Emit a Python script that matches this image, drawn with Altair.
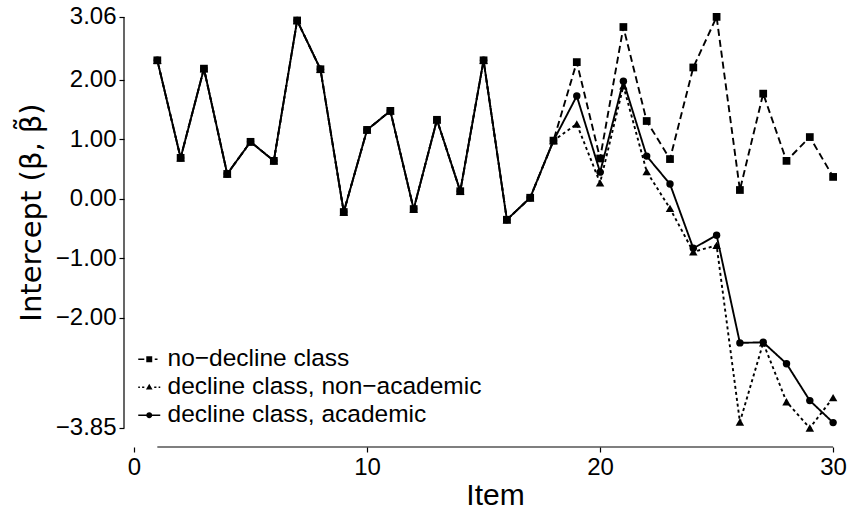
import altair as alt
import pandas as pd

# ---------------- data ----------------
items = list(range(1, 31))
common_head = [2.33, 0.69, 2.19, 0.42, 0.96, 0.64, 3.00, 2.18, -0.22, 1.16,
               1.48, -0.17, 1.33, 0.13, 2.33, -0.35, 0.02, 0.98]
no_decline_tail = [2.30, 0.68, 2.89, 1.31, 0.67, 2.21, 3.06, 0.15, 1.77, 0.64, 1.04, 0.37]
non_academic_tail = [1.26, 0.27, 1.90, 0.46, -0.16, -0.89, -0.78, -3.75, -2.42, -3.41, -3.85, -3.34]
academic_tail = [1.73, 0.45, 1.98, 0.72, 0.25, -0.83, -0.61, -2.42, -2.41, -2.77, -3.39, -3.76]

series_names = ["no\u2212decline class",
                "decline class, non\u2212academic",
                "decline class, academic"]
series_values = [common_head + no_decline_tail,
                 common_head + non_academic_tail,
                 common_head + academic_tail]
y_ticks = [-3.85, -2.0, -1.0, 0.0, 1.0, 2.0, 3.06]
x_ticks = [0, 10, 20, 30]

# ---------------- styling ----------------
W, H = 721, 442
FONT = "Liberation Sans"
dashes = [[7, 4], [3, 3], [1, 0]]
shapes = ["square", "triangle-up", "circle"]
sizes = [60, 72, 55]
legend_paths = [
    "M-1,-0.07H-0.45V0.07H-1Z M-0.27,-0.27H0.27V0.27H-0.27Z M0.5,-0.07H0.75V0.07H0.5Z",
    "M-1,-0.07H-0.85V0.07H-1Z M-0.65,-0.07H-0.45V0.07H-0.65Z M0,-0.32L0.3,0.2L-0.3,0.2Z "
    "M0.45,-0.07H0.65V0.07H0.45Z M0.85,-0.07H1V0.07H0.85Z",
    "M-1,-0.07H-0.25V0.07H-1Z M-0.27,0A0.27,0.27 0 1,1 0.27,0A0.27,0.27 0 1,1 -0.27,0Z "
    "M0.25,-0.07H1V0.07H0.25Z",
]

xscale = alt.Scale(domain=[-0.43, 30.51], nice=False, zero=False)
yscale = alt.Scale(domain=[-4.17, 3.26], nice=False, zero=False)

xaxis = alt.Axis(values=x_ticks, format="d", title="Item", titlePadding=1,
                 titleX=371, labelPadding=3, titleFontSize=30)
yaxis = alt.Axis(values=y_ticks, format=".2f", title="Intercept (\u03b2, \u03b2\u0303)",
                 titlePadding=9, titleY=207, labelPadding=3,
                 titleFont="DejaVu Sans", titleFontSize=29)

rows = []
for name, vals in zip(series_names, series_values):
    for it, v in zip(items, vals):
        rows.append({"item": it, "value": v, "series": name})
df = pd.DataFrame(rows)

layers = []
for i, name in enumerate(series_names):
    base = alt.Chart(df[df["series"] == name])
    layers.append(
        base.mark_line(color="black", strokeWidth=1.9, strokeDash=dashes[i]).encode(
            x=alt.X("item:Q", scale=xscale, axis=xaxis),
            y=alt.Y("value:Q", scale=yscale, axis=yaxis),
        )
    )
for i, name in enumerate(series_names):
    base = alt.Chart(df[df["series"] == name])
    layers.append(
        base.mark_point(filled=True, color="black", opacity=1, shape=shapes[i],
                        size=sizes[i], strokeWidth=0).encode(
            x=alt.X("item:Q", scale=xscale),
            y=alt.Y("value:Q", scale=yscale),
        )
    )

# range-frame axis lines
yline = alt.Chart(pd.DataFrame({"lo": [min(y_ticks)], "hi": [max(y_ticks)]})).mark_rule(
    color="black", strokeWidth=1.2).encode(
    y=alt.Y("lo:Q", scale=yscale), y2="hi:Q", x=alt.value(0))
xline = alt.Chart(pd.DataFrame({"lo": [min(items)], "hi": [max(items)]})).mark_rule(
    color="black", strokeWidth=1.2).encode(
    x=alt.X("lo:Q", scale=xscale), x2="hi:Q", y=alt.value(H))

# legend (custom symbols: line segment + marker)
legend_layer = alt.Chart(pd.DataFrame({"series": series_names})).transform_filter(
    "false").mark_point(filled=True, color="black", opacity=1).encode(
    x=alt.value(0), y=alt.value(0),
    shape=alt.Shape("series:N",
                    scale=alt.Scale(domain=series_names, range=legend_paths),
                    legend=alt.Legend(orient="none", legendX=13, legendY=342, title=None,
                                      labelFontSize=24.5, labelFont=FONT, labelColor="black",
                                      symbolSize=484, symbolFillColor="black",
                                      symbolStrokeColor="black", symbolStrokeWidth=0,
                                      symbolOpacity=1, labelOffset=6, rowPadding=3,
                                      padding=0, labelLimit=500)),
)

chart = alt.layer(*layers, yline, xline, legend_layer).properties(
    width=W, height=H,
    autosize=alt.AutoSizeParams(type="none"),
    padding={"left": 124, "top": 5, "right": 3, "bottom": 63},
    background="white",
).configure_view(stroke=None).configure_axis(
    domain=False, grid=False, ticks=True, tickSize=5, tickColor="black", tickWidth=1.2,
    labelFont=FONT, labelFontSize=24, labelColor="black",
    titleFont=FONT, titleFontSize=29, titleFontWeight="normal", titleColor="black",
)

chart.save("out.html", embed_options={"renderer": "svg", "actions": False})
